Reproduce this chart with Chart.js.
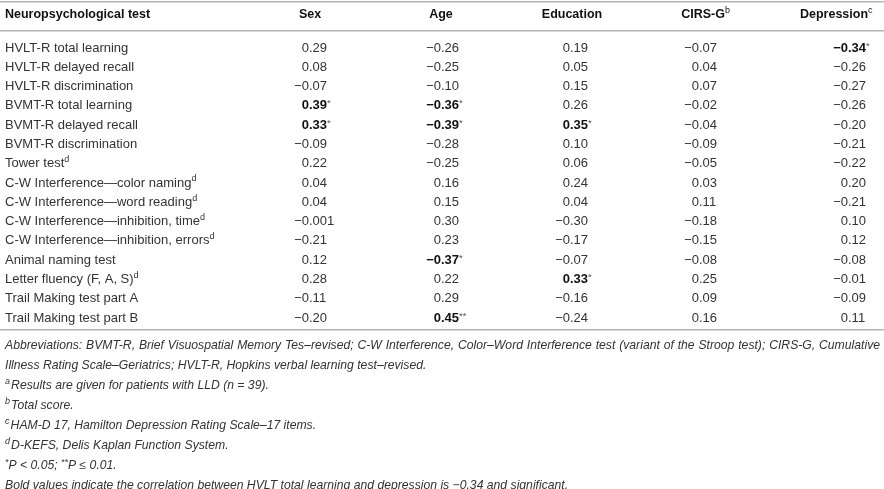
<!DOCTYPE html>
<html><head><meta charset="utf-8">
<script src="https://cdn.jsdelivr.net/npm/chart.js@4.4.0/dist/chart.umd.min.js"></script>
<style>html,body{margin:0;padding:0;background:#fff;overflow:hidden}#wrap{position:relative;width:884px;height:489px}</style>
</head><body><div id="wrap"><canvas id="c"></canvas></div>
<script>
const tests = ['HVLT-R total learning','HVLT-R delayed recall','HVLT-R discrimination','BVMT-R total learning','BVMT-R delayed recall','BVMT-R discrimination','Tower test','C-W Interference\u2014color naming','C-W Interference\u2014word reading','C-W Interference\u2014inhibition, time','C-W Interference\u2014inhibition, errors','Animal naming test','Letter fluency (F, A, S)','Trail Making test part A','Trail Making test part B'];
const testNotes = ['','','','','','','d','d','d','d','d','','d','',''];
const columns = ['Sex','Age','Education','CIRS-G','Depression'];
const columnNotes = ['','','','b','c'];
const sexValues = [0.29,0.08,-0.07,0.39,0.33,-0.09,0.22,0.04,0.04,-0.001,-0.21,0.12,0.28,-0.11,-0.20];
const ageValues = [-0.26,-0.25,-0.10,-0.36,-0.39,-0.28,-0.25,0.16,0.15,0.30,0.23,-0.37,0.22,0.29,0.45];
const educationValues = [0.19,0.05,0.15,0.26,0.35,0.10,0.06,0.24,0.04,-0.30,-0.17,-0.07,0.33,-0.16,-0.24];
const cirsValues = [-0.07,0.04,0.07,-0.02,-0.04,-0.09,-0.05,0.03,0.11,-0.18,-0.15,-0.08,0.25,0.09,0.16];
const depressionValues = [-0.34,-0.26,-0.27,-0.26,-0.20,-0.21,-0.22,0.20,-0.21,0.10,0.12,-0.08,-0.01,-0.09,0.11];
const sexStars = [0,0,0,1,1,0,0,0,0,0,0,0,0,0,0];
const ageStars = [0,0,0,1,1,0,0,0,0,0,0,1,0,0,2];
const educationStars = [0,0,0,0,1,0,0,0,0,0,0,0,1,0,0];
const cirsStars = [0,0,0,0,0,0,0,0,0,0,0,0,0,0,0];
const depressionStars = [1,0,0,0,0,0,0,0,0,0,0,0,0,0,0];
const footnoteMarks = ['','','a','b','c','d','',''];
const footnotes = [
 'Abbreviations: BVMT-R, Brief Visuospatial Memory Tes\u2013revised; C-W Interference, Color\u2013Word Interference test (variant of the Stroop test); CIRS-G, Cumulative',
 'Illness Rating Scale\u2013Geriatrics; HVLT-R, Hopkins verbal learning test\u2013revised.',
 'Results are given for patients with LLD (n = 39).',
 'Total score.',
 'HAM-D 17, Hamilton Depression Rating Scale\u201317 items.',
 'D-KEFS, Delis Kaplan Function System.',
 '*P < 0.05; **P \u2264 0.01.',
 'Bold values indicate the correlation between HVLT total learning and depression is \u22120.34 and significant.'
];

const valueCols = [sexValues, ageValues, educationValues, cirsValues, depressionValues];
const starCols = [sexStars, ageStars, educationStars, cirsStars, depressionStars];

const FAM = '"Liberation Sans", Arial, Helvetica, sans-serif';
const REG = '13px ' + FAM, BOLD = 'bold 13px ' + FAM, HEAD = 'bold 12.5px ' + FAM;
const SUP = '9px ' + FAM, STAR = '9.5px ' + FAM;
const FOOT = 'italic 12.2px ' + FAM, FOOTSUP = 'italic 9px ' + FAM;
const TXT = '#333', DARK = '#111', RULE = '#b4b4b4';
const decimalShift = [-1, 0, -2, -4, 14];

function fmt(v){
  const two = Math.abs(v*100 - Math.round(v*100)) < 1e-9;
  const s = Math.abs(v).toFixed(two ? 2 : 3);
  return (v < 0 ? '\u2212' : '') + s;
}
function segWidth(ctx, segs){ let w=0; segs.forEach(s=>{ctx.font=s.f; s.w=ctx.measureText(s.t).width; w+=s.w;}); return w; }
function drawSegs(ctx, x, y, segs, align){
  const w = segWidth(ctx, segs);
  let cx = align==='right' ? x-w : align==='center' ? x-w/2 : x;
  segs.forEach(s=>{ ctx.font=s.f; ctx.fillStyle=s.c; ctx.fillText(s.t, cx, y+(s.dy||0)); cx+=s.w; });
}

const tablePlugin = {
  id: 'tableText',
  afterDatasetsDraw(chart){
    const ctx = chart.ctx, area = chart.chartArea, xs = chart.scales.x;
    ctx.save();
    ctx.textBaseline = 'middle';
    const W = chart.width;
    // rules
    ctx.fillStyle = RULE;
    [area.top-47, area.top-18, area.bottom+11].forEach(y=>ctx.fillRect(0, Math.round(y), W, 1.5));
    // header
    const hy = area.top - 33;
    drawSegs(ctx, 5, hy, [{t:'Neuropsychological test', f:HEAD, c:DARK}], 'left');
    columns.forEach((c, ci)=>{
      const x = xs.getPixelForValue(ci);
      const segs = [{t:c, f:HEAD, c:DARK}];
      const w0 = segWidth(ctx, segs);
      drawSegs(ctx, x - w0/2, hy, segs.concat(columnNotes[ci] ? [{t:columnNotes[ci], f:SUP, c:DARK, dy:-4}] : []), 'left');
    });
    // row labels
    const m0 = chart.getDatasetMeta(0);
    tests.forEach((t, ri)=>{
      const y = m0.data[ri].y;
      const segs = [{t:t, f:REG, c:TXT}];
      if (testNotes[ri]) segs.push({t:testNotes[ri], f:SUP, c:TXT, dy:-4});
      drawSegs(ctx, 5, y, segs, 'left');
    });
    // cells
    chart.data.datasets.forEach((ds, ci)=>{
      const meta = chart.getDatasetMeta(ci);
      meta.data.forEach((pt, ri)=>{
        const v = valueCols[ci][ri], stars = starCols[ci][ri];
        const s = fmt(v), k = s.indexOf('.');
        const f = stars ? BOLD : REG, col = stars ? DARK : TXT;
        const ax = pt.x + decimalShift[ci];
        drawSegs(ctx, ax, pt.y, [{t:s.slice(0,k), f:f, c:col}], 'right');
        const right = [{t:s.slice(k), f:f, c:col}];
        if (stars) right.push({t:'*'.repeat(stars), f:STAR, c:'#555', dy:-2});
        drawSegs(ctx, ax, pt.y, right, 'left');
      });
    });
    // footnotes
    const fy0 = area.bottom + 28;
    footnotes.forEach((line, i)=>{
      const y = fy0 + i*19.9;
      if (i === 0) {
        const words = line.split(' ');
        ctx.font = FOOT;
        const ws = words.map(w=>ctx.measureText(w).width);
        const tot = ws.reduce((a,b)=>a+b,0);
        const gap = (W - 5 - 4 - tot)/(words.length-1);
        let x = 5;
        ctx.fillStyle = TXT;
        words.forEach((w, j)=>{ ctx.fillText(w, x, y); x += ws[j] + gap; });
        return;
      }
      let segs = [];
      if (footnoteMarks[i]) segs.push({t:footnoteMarks[i], f:FOOTSUP, c:TXT, dy:-4},{t:' ', f:'italic 4px '+FAM, c:TXT});
      if (i === 6) {
        segs.push({t:'*', f:FOOTSUP, c:TXT, dy:-3},{t:'P < 0.05; ', f:FOOT, c:TXT},{t:'**', f:FOOTSUP, c:TXT, dy:-3},{t:'P \u2264 0.01.', f:FOOT, c:TXT});
      } else segs.push({t:line, f:FOOT, c:TXT});
      drawSegs(ctx, 5, y, segs, 'left');
    });
    ctx.restore();
  }
};

new Chart(document.getElementById('c'), {
  type: 'scatter',
  data: {
    datasets: columns.map((c, ci)=>({
      label: c,
      data: tests.map((t, ri)=>({x: c, y: t, v: valueCols[ci][ri]})),
      pointRadius: 0, pointHoverRadius: 0, showLine: false
    }))
  },
  options: {
    responsive: true, maintainAspectRatio: false, animation: false,
    layout: { padding: { left: 310, right: 50, top: 48, bottom: 171 } },
    plugins: { legend: {display:false}, tooltip: {enabled:false} },
    events: [],
    scales: {
      x: { type: 'category', labels: columns, offset: false, display: false },
      y: { type: 'category', labels: tests, offset: false, display: false }
    }
  },
  plugins: [tablePlugin]
});
</script></body></html>
